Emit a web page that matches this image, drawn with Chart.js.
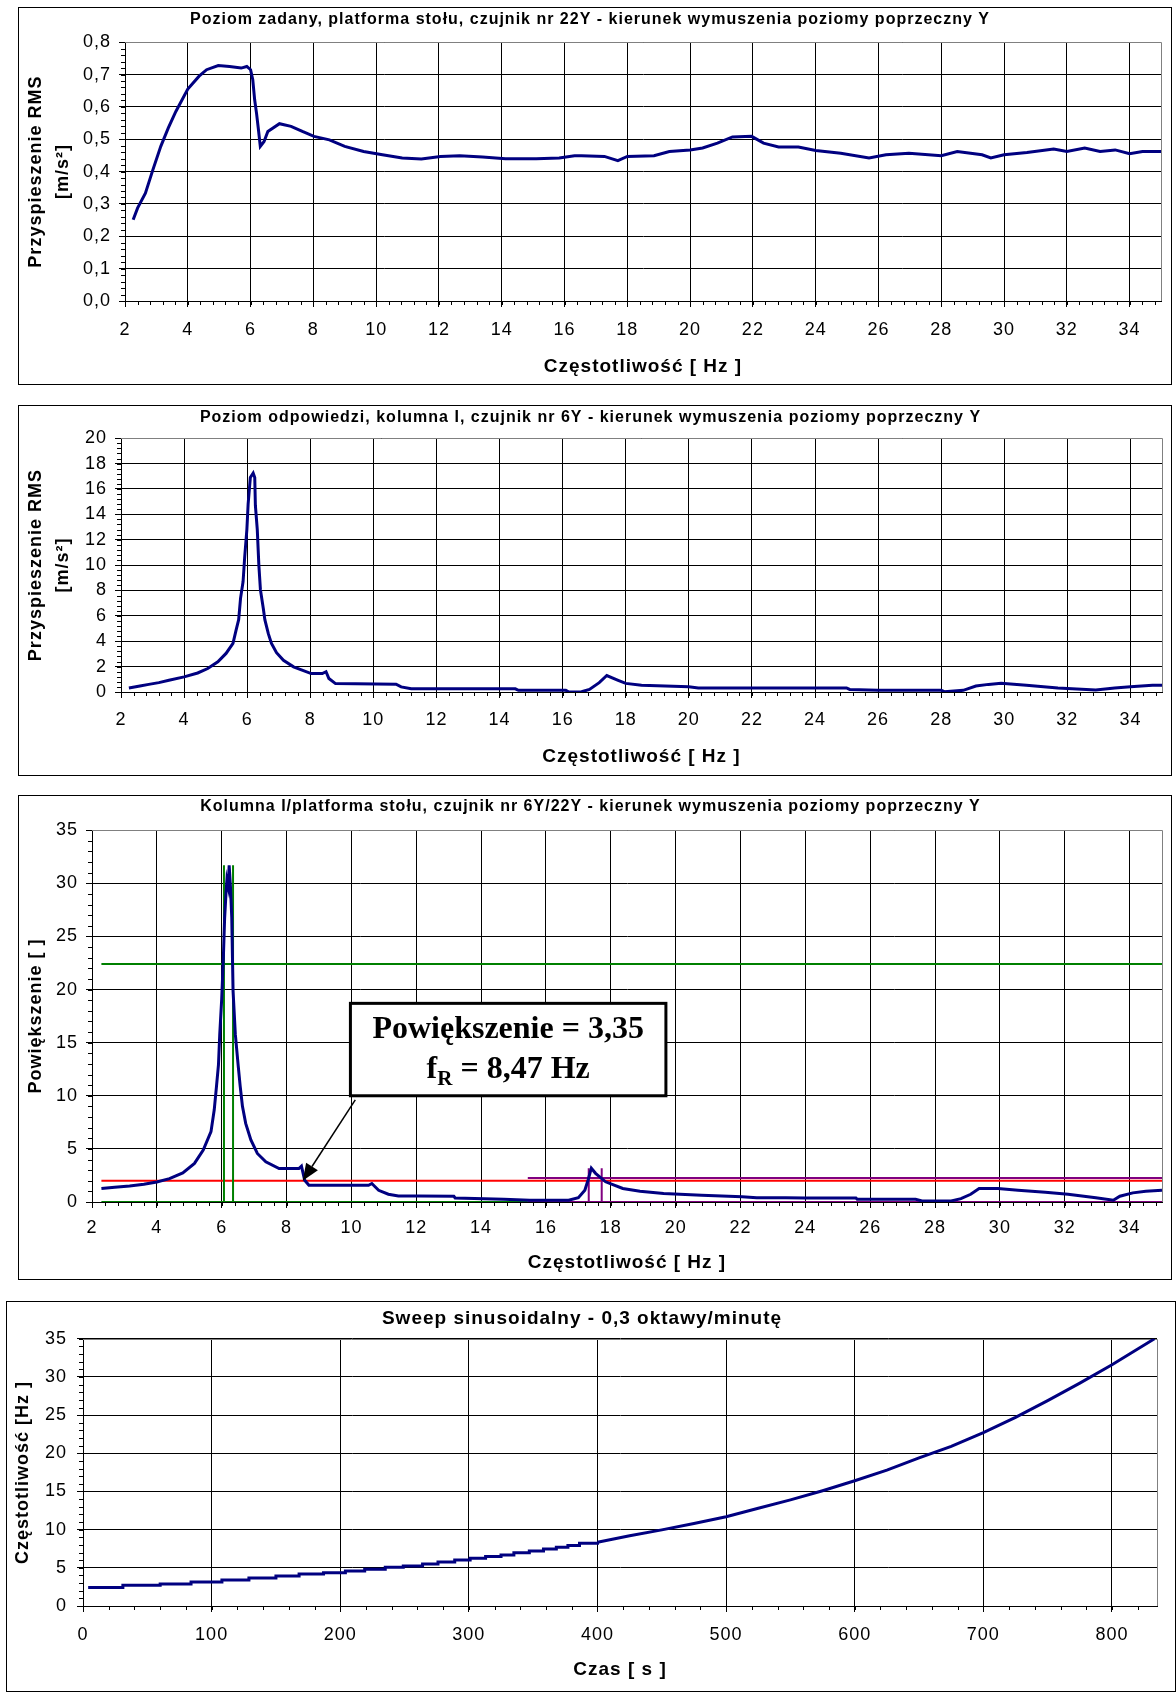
<!DOCTYPE html>
<html lang="pl">
<head>
<meta charset="utf-8">
<title>Kolumna I - sweep sinusoidalny, kierunek Y</title>
<script src="https://cdn.jsdelivr.net/npm/chart.js@4.4.1/dist/chart.umd.min.js"></script>
<style>
  html, body { margin: 0; padding: 0; background: #fff; }
  body { position: relative; width: 1176px; height: 1697px; overflow: hidden; }
  .box { position: absolute; border: 1px solid #000; box-sizing: border-box; background: #fff; }
  .box canvas { position: absolute; left: 0; top: 0; }
</style>
</head>
<body>
<div class="box" style="left:18px;top:7px;width:1154px;height:378px"><canvas id="c1" width="1152" height="376"></canvas></div>
<div class="box" style="left:18px;top:405px;width:1154px;height:371px"><canvas id="c2" width="1152" height="369"></canvas></div>
<div class="box" style="left:18px;top:795px;width:1154px;height:485px"><canvas id="c3" width="1152" height="483"></canvas></div>
<div class="box" style="left:6px;top:1301px;width:1170px;height:391px"><canvas id="c4" width="1168" height="389"></canvas></div>
<script>
// --- wykres 1: poziom zadany, czujnik 22Y ---
const freq22Y = [2.26, 2.4, 2.65, 2.89, 3.14, 3.38, 3.62, 4.0, 4.36, 4.6, 4.97, 5.33, 5.7, 5.88, 6.0, 6.07, 6.13, 6.19, 6.25, 6.31,
  6.43, 6.55, 6.92, 7.29, 7.65, 8.02, 8.51, 9.0, 9.6, 10.2, 10.83, 11.44, 12.05, 12.66, 13.39, 14.12, 15.1, 15.83, 16.32, 16.54,
  17.27, 17.7, 18.0, 18.85, 19.34, 20.0, 20.4, 20.87, 21.35, 21.96, 22.34, 22.82, 23.45, 24.0, 24.8, 25.7, 26.24, 26.97, 28.0, 28.51,
  29.3, 29.58, 30.0, 30.73, 31.58, 32.0, 32.57, 33.06, 33.54, 34.0, 34.41, 35.0];
const rms22Y = [0.251, 0.287, 0.333, 0.406, 0.478, 0.535, 0.586, 0.655, 0.695, 0.715, 0.728, 0.725, 0.72, 0.725, 0.715, 0.684, 0.622, 0.58, 0.53, 0.478,
  0.493, 0.524, 0.548, 0.54, 0.524, 0.509, 0.498, 0.478, 0.462, 0.452, 0.442, 0.439, 0.447, 0.449, 0.445, 0.44, 0.44, 0.442, 0.449, 0.449,
  0.447, 0.434, 0.447, 0.449, 0.462, 0.467, 0.473, 0.488, 0.507, 0.509, 0.488, 0.476, 0.476, 0.465, 0.457, 0.442, 0.452, 0.457, 0.449, 0.462,
  0.452, 0.442, 0.452, 0.459, 0.47, 0.462, 0.473, 0.462, 0.467, 0.455, 0.462, 0.462];

// --- wykres 2: poziom odpowiedzi, kolumna I, czujnik 6Y ---
const freq6Y = [2.25, 2.6, 2.88, 3.2, 3.52, 4.0, 4.43, 4.75, 5.07, 5.33, 5.55, 5.65, 5.73, 5.79, 5.87, 5.92, 5.99, 6.03, 6.1, 6.19,
  6.24, 6.26, 6.32, 6.37, 6.42, 6.51, 6.56, 6.67, 6.77, 6.93, 7.15, 7.47, 7.74, 8.03, 8.38, 8.5, 8.59, 8.8, 10.72, 10.88,
  11.2, 14.5, 14.6, 16.1, 16.2, 16.6, 16.85, 17.16, 17.4, 17.76, 18.0, 18.5, 20.0, 20.3, 25.0, 25.1, 26.0, 28.0, 28.1, 28.7,
  29.1, 29.5, 29.9, 30.7, 31.7, 32.9, 33.5, 34.0, 34.7, 35.0];
const rms6Y = [0.32, 0.48, 0.6, 0.74, 0.92, 1.19, 1.5, 1.85, 2.38, 3.04, 3.83, 4.9, 5.7, 7.4, 8.7, 10.6, 12.8, 14.8, 16.9, 17.25,
  16.9, 14.7, 12.8, 10.0, 8.06, 6.6, 5.7, 4.6, 3.83, 3.1, 2.5, 1.98, 1.72, 1.45, 1.45, 1.6, 1.06, 0.66, 0.62, 0.4,
  0.25, 0.25, 0.13, 0.13, 0.0, 0.02, 0.2, 0.74, 1.3, 0.92, 0.68, 0.53, 0.42, 0.32, 0.32, 0.2, 0.13, 0.13, 0.02, 0.13,
  0.47, 0.6, 0.68, 0.53, 0.32, 0.16, 0.32, 0.42, 0.53, 0.53];

// --- wykres 3: powiekszenie 6Y/22Y ---
const freqGain = [2.29, 2.7, 3.16, 3.6, 4.0, 4.39, 4.8, 5.16, 5.43, 5.67, 5.77, 5.84, 5.9, 5.94, 6.0, 6.05, 6.09, 6.13, 6.16, 6.2,
  6.23, 6.27, 6.31, 6.35, 6.42, 6.51, 6.57, 6.64, 6.74, 6.9, 7.1, 7.36, 7.77, 8.38, 8.46, 8.56, 8.69, 10.53, 10.63, 10.84,
  11.14, 11.45, 12.07, 13.16, 13.2, 14.7, 15.5, 16.7, 17.0, 17.2, 17.3, 17.4, 17.53, 17.84, 18.37, 18.9, 19.63, 20.8, 22.05, 22.5,
  23.4, 24.0, 25.56, 25.6, 27.4, 27.6, 28.5, 28.8, 29.1, 29.36, 29.94, 30.56, 31.4, 32.1, 32.96, 33.5, 33.7, 34.1, 34.5, 35.0];
const gain = [1.26, 1.38, 1.51, 1.68, 1.89, 2.2, 2.74, 3.63, 4.89, 6.62, 8.68, 10.9, 12.9, 15.8, 19.1, 22.9, 26.7, 28.9, 30.3, 29.7,
  31.7, 29.7, 26.8, 19.9, 15.8, 12.8, 10.9, 9.0, 7.4, 5.84, 4.57, 3.79, 3.15, 3.15, 3.38, 2.05, 1.58, 1.58, 1.74, 1.1,
  0.73, 0.57, 0.57, 0.54, 0.38, 0.25, 0.16, 0.16, 0.41, 1.1, 2.07, 3.18, 2.7, 1.9, 1.27, 1.02, 0.8, 0.64, 0.5, 0.41,
  0.41, 0.38, 0.38, 0.25, 0.25, 0.1, 0.1, 0.32, 0.73, 1.27, 1.27, 1.11, 0.92, 0.73, 0.41, 0.16, 0.54, 0.86, 1.02, 1.1];
// linie pomocnicze (metoda polmocy)
const lineStart = 2.29, bandSplit = 15.44, lineEnd = 35;
const peak1Level = 22.4, peak1Band = [6.07, 6.35], peak1Top = 31.7;
const peak2Level = 2.26, peak2Band = [17.32, 17.72], peak2Top = 3.18;
const markLevel = 2.0;
// ramka z opisem
const calloutLines = ['Powiększenie = 3,35', 'f', 'R', ' = 8,47 Hz'];
const calloutBoxX = [9.97, 19.7], calloutBoxY = [10.0, 18.7], calloutRows = [16.5, 12.7];
const arrowFrom = [10.12, 9.62], arrowTo = [8.5, 2.0];

// --- wykres 4: sweep sinusoidalny ---
const timeSteps = [4, 31, 60, 84, 108, 129, 150, 168, 187, 204, 219, 235, 249, 264, 276, 289, 301, 313, 325, 335, 347, 358, 368, 377, 386, 400];
const freqSteps = [2.41, 2.71, 2.89, 3.15, 3.41, 3.67, 3.94, 4.2, 4.37, 4.59, 4.81, 5.07, 5.25, 5.51, 5.77, 6.04, 6.26, 6.47, 6.69, 6.96, 7.22, 7.48, 7.7, 7.92, 8.22, 8.36];
const timeSweep = [400, 425, 450, 475, 500, 525, 550, 575, 600, 625, 650, 675, 700, 725, 750, 775, 800, 833];
const freqSweep = [8.36, 9.2, 9.97, 10.8, 11.7, 12.8, 13.9, 15.1, 16.4, 17.8, 19.4, 20.9, 22.7, 24.7, 26.9, 29.2, 31.6, 35.0];

const NAVY = '#000080';
Chart.defaults.font.family = '"Liberation Sans", Arial, sans-serif';
Chart.defaults.color = '#000';

const pts = (xs, ys) => xs.map((x, i) => ({ x: x, y: ys[i] }));
const seg = (x0, y0, x1, y1, color) => ({
  data: [{ x: x0, y: y0 }, { x: x1, y: y1 }], borderColor: color, borderWidth: 2, pointRadius: 0
});

// ramka wykresu (szara gora/prawo) i male podzialki
const frame = {
  id: 'frame',
  beforeDraw(chart) { chart.ctx.letterSpacing = '1px'; },
  beforeDatasetsDraw(chart, args, opts) {
    const { ctx, chartArea: a, scales: { x, y } } = chart;
    ctx.save();
    ctx.lineWidth = 1;
    ctx.strokeStyle = '#808080';
    ctx.beginPath();
    ctx.moveTo(Math.round(a.left), Math.round(a.top) + 0.5);
    ctx.lineTo(Math.round(a.right) + 0.5, Math.round(a.top) + 0.5);
    ctx.lineTo(Math.round(a.right) + 0.5, Math.round(a.bottom));
    ctx.stroke();
    ctx.strokeStyle = '#000';
    ctx.beginPath();
    for (let v = x.min; v <= x.max + 1e-9; v += opts.minorX) {
      const px = Math.round(x.getPixelForValue(v)) + 0.5;
      ctx.moveTo(px, a.bottom); ctx.lineTo(px, a.bottom + 4);
    }
    for (let v = y.min; v <= y.max + 1e-9; v += opts.minorY) {
      const py = Math.round(y.getPixelForValue(v)) + 0.5;
      ctx.moveTo(a.left - 4, py); ctx.lineTo(a.left, py);
    }
    ctx.stroke();
    ctx.restore();
  }
};
Chart.register(frame);

const callout = {
  id: 'callout',
  afterDraw(chart) {
    const { ctx, scales: { x, y } } = chart;
    const L = x.getPixelForValue(calloutBoxX[0]), R = x.getPixelForValue(calloutBoxX[1]);
    const T = y.getPixelForValue(calloutBoxY[1]), B = y.getPixelForValue(calloutBoxY[0]);
    const sx = x.getPixelForValue(arrowFrom[0]), sy = y.getPixelForValue(arrowFrom[1]);
    const ex = x.getPixelForValue(arrowTo[0]), ey = y.getPixelForValue(arrowTo[1]);
    ctx.save();
    ctx.letterSpacing = '0px';
    ctx.strokeStyle = '#000';
    ctx.fillStyle = '#000';
    // strzalka
    const ang = Math.atan2(ey - sy, ex - sx), c = Math.cos(ang), s = Math.sin(ang);
    const hl = 17, hw = 7;
    ctx.lineWidth = 1.5;
    ctx.beginPath();
    ctx.moveTo(sx, sy);
    ctx.lineTo(ex - hl * c, ey - hl * s);
    ctx.stroke();
    ctx.beginPath();
    ctx.moveTo(ex, ey);
    ctx.lineTo(ex - hl * c + hw * s, ey - hl * s - hw * c);
    ctx.lineTo(ex - hl * c - hw * s, ey - hl * s + hw * c);
    ctx.closePath();
    ctx.fill();
    // ramka
    ctx.fillStyle = '#fff';
    ctx.fillRect(L, T, R - L, B - T);
    ctx.lineWidth = 3;
    ctx.strokeRect(L, T, R - L, B - T);
    // tekst
    const cx = (L + R) / 2;
    const big = 'bold 32px "Liberation Serif", "Times New Roman", serif';
    const small = 'bold 21px "Liberation Serif", "Times New Roman", serif';
    ctx.fillStyle = '#000';
    ctx.textBaseline = 'alphabetic';
    ctx.textAlign = 'center';
    ctx.font = big;
    const r1 = y.getPixelForValue(calloutRows[0]) + 11, r2 = y.getPixelForValue(calloutRows[1]) + 11;
    ctx.fillText(calloutLines[0], cx, r1);
    ctx.textAlign = 'left';
    const w1 = ctx.measureText(calloutLines[1]).width, w3 = ctx.measureText(calloutLines[3]).width;
    ctx.font = small;
    const w2 = ctx.measureText(calloutLines[2]).width;
    let px = cx - (w1 + w2 + w3) / 2;
    ctx.font = big;
    ctx.fillText(calloutLines[1], px, r2);
    px += w1;
    ctx.font = small;
    ctx.fillText(calloutLines[2], px, r2 + 7);
    px += w2;
    ctx.font = big;
    ctx.fillText(calloutLines[3], px, r2);
    ctx.restore();
  }
};

function makeOptions(o) {
  return {
    responsive: false,
    animation: false,
    events: [],
    layout: { padding: { left: 0, right: o.padRight, top: 0, bottom: 0 } },
    plugins: {
      legend: { display: false },
      tooltip: { enabled: false },
      title: {
        display: true, text: o.title,
        font: { size: o.titleSize, weight: 'bold' },
        padding: { top: o.titleTop, bottom: o.titleBottom }
      },
      frame: { minorX: o.minorX, minorY: o.minorY }
    },
    scales: {
      x: {
        type: 'linear', min: o.xMin, max: o.xMax,
        afterFit: s => { s.height = o.xAxisH; },
        border: { color: '#000' },
        grid: { color: '#000', tickLength: 6 },
        ticks: { stepSize: o.xStep, includeBounds: false, autoSkip: false, maxRotation: 0, padding: o.xTickPad, font: { size: 18 } },
        title: { display: true, text: o.xTitle, font: { size: 19, weight: 'bold' }, padding: { top: 0, bottom: o.xTitlePad } }
      },
      y: {
        type: 'linear', min: 0, max: o.yMax,
        afterFit: s => { s.width = o.yAxisW; },
        border: { color: '#000' },
        grid: { color: '#000', tickLength: 6 },
        ticks: { stepSize: o.yStep, includeBounds: false, padding: o.yTickPad, font: { size: 18 }, callback: o.yFmt },
        title: { display: true, text: o.yTitle, font: { size: 18, weight: 'bold', lineHeight: o.yTitleLH }, padding: { top: o.yTitlePad, bottom: 0 } }
      }
    }
  };
}

const hzTitle = 'Częstotliwość [ Hz ]';
const rmsTitle = ['Przyspieszenie RMS', '[m/s²]'];

new Chart(document.getElementById('c1'), {
  type: 'line',
  data: { datasets: [{ data: pts(freq22Y, rms22Y), borderColor: NAVY, borderWidth: 3, pointRadius: 0 }] },
  options: makeOptions({
    title: 'Poziom zadany, platforma stołu, czujnik nr 22Y - kierunek wymuszenia poziomy poprzeczny Y',
    titleSize: 16, titleTop: 2, titleBottom: 13, padRight: 10,
    xMin: 2, xMax: 35, xStep: 2, minorX: 0.4, xAxisH: 83, xTickPad: 12, xTitle: hzTitle, xTitlePad: 6,
    yMax: 0.8, yStep: 0.1, minorY: 0.02, yAxisW: 106, yTickPad: 8,
    yFmt: v => v.toFixed(1).replace('.', ','), yTitle: rmsTitle, yTitleLH: 1.5, yTitlePad: 3.5
  })
});

new Chart(document.getElementById('c2'), {
  type: 'line',
  data: { datasets: [{ data: pts(freq6Y, rms6Y), borderColor: NAVY, borderWidth: 3, pointRadius: 0 }] },
  options: makeOptions({
    title: 'Poziom odpowiedzi, kolumna I, czujnik nr 6Y - kierunek wymuszenia poziomy poprzeczny Y',
    titleSize: 16, titleTop: 2, titleBottom: 11, padRight: 9,
    xMin: 2, xMax: 35, xStep: 2, minorX: 0.4, xAxisH: 83, xTickPad: 11, xTitle: hzTitle, xTitlePad: 6.5,
    yMax: 20, yStep: 2, minorY: 0.4, yAxisW: 102, yTickPad: 8,
    yFmt: v => v, yTitle: rmsTitle, yTitleLH: 1.5, yTitlePad: 3.5
  })
});

new Chart(document.getElementById('c3'), {
  type: 'line',
  data: {
    datasets: [
      { data: pts(freqGain, gain), borderColor: NAVY, borderWidth: 3, pointRadius: 0 },
      seg(peak1Band[0], 0, peak1Band[0], peak1Top, '#008000'),
      seg(peak1Band[1], 0, peak1Band[1], peak1Top, '#008000'),
      seg(lineStart, peak1Level, lineEnd, peak1Level, '#008000'),
      seg(lineStart, 0, bandSplit, 0, '#008000'),
      seg(peak2Band[0], 0, peak2Band[0], peak2Top, '#800080'),
      seg(peak2Band[1], 0, peak2Band[1], peak2Top, '#800080'),
      seg(bandSplit, peak2Level, lineEnd, peak2Level, '#800080'),
      seg(bandSplit, 0, lineEnd, 0, '#800080'),
      seg(lineStart, markLevel, lineEnd, markLevel, '#ff0000')
    ]
  },
  options: makeOptions({
    title: 'Kolumna I/platforma stołu, czujnik nr 6Y/22Y - kierunek wymuszenia poziomy poprzeczny Y',
    titleSize: 16, titleTop: 1, titleBottom: 14, padRight: 9,
    xMin: 2, xMax: 35, xStep: 2, minorX: 0.4, xAxisH: 77, xTickPad: 9, xTitle: hzTitle, xTitlePad: 4.5,
    yMax: 35, yStep: 5, minorY: 1, yAxisW: 73, yTickPad: 8,
    yFmt: v => v, yTitle: 'Powiększenie [ ]', yTitleLH: 1.2, yTitlePad: 6
  }),
  plugins: [callout]
});

new Chart(document.getElementById('c4'), {
  type: 'line',
  data: {
    datasets: [
      { data: pts(timeSteps, freqSteps), borderColor: NAVY, borderWidth: 3, pointRadius: 0, stepped: true },
      { data: pts(timeSweep, freqSweep), borderColor: NAVY, borderWidth: 3, pointRadius: 0 }
    ]
  },
  options: makeOptions({
    title: 'Sweep sinusoidalny - 0,3 oktawy/minutę',
    titleSize: 19, titleTop: 5.5, titleBottom: 8.5, padRight: 18,
    xMin: 0, xMax: 835, xStep: 100, minorX: 20, xAxisH: 85, xTickPad: 12, xTitle: 'Czas [ s ]', xTitlePad: 9.5,
    yMax: 35, yStep: 5, minorY: 1, yAxisW: 76, yTickPad: 10,
    yFmt: v => v, yTitle: 'Częstotliwość [Hz ]', yTitleLH: 1.2, yTitlePad: 5
  })
});
</script>
</body>
</html>
